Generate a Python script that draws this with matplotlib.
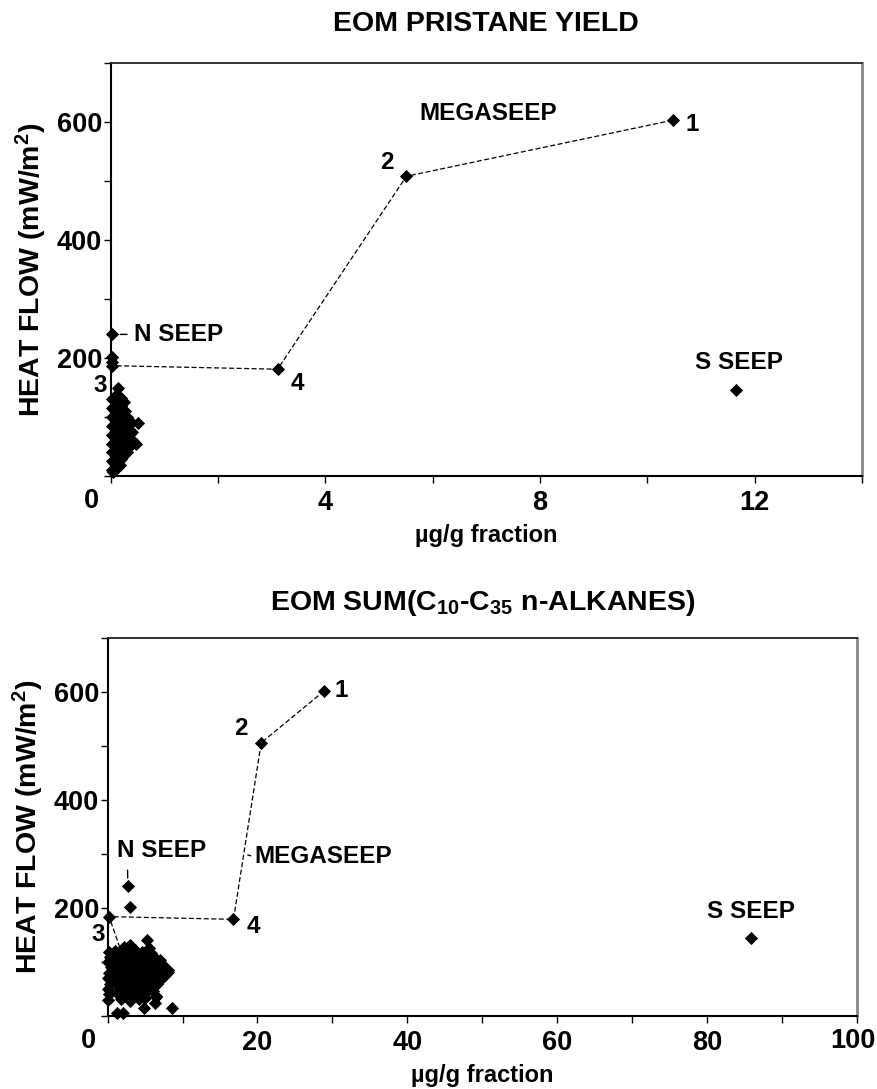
import numpy as np
import matplotlib
matplotlib.use("Agg")
import matplotlib.pyplot as plt

plt.rcParams['font.family'] = ['Liberation Sans', 'DejaVu Sans']
plt.rcParams['font.weight'] = 'bold'
plt.rcParams['mathtext.fontset'] = 'custom'
plt.rcParams['mathtext.rm'] = 'Liberation Sans:bold'
plt.rcParams['mathtext.bf'] = 'Liberation Sans:bold'
plt.rcParams['mathtext.default'] = 'rm'

# ---------------- data: EOM PRISTANE YIELD ----------------
pr_line_labels = ['1', '2', '4', '3']
pr_line_x = [10.47, 5.51, 3.11, 0.03]
pr_line_y = [603, 508, 181, 187]
pr_nseep_x = [0.02]
pr_nseep_y = [240]
pr_sseep_x = [11.65]
pr_sseep_y = [146]
pr_other_x = [0.02, 0.02]
pr_other_y = [202, 194]
pr_cluster_x = [0.02, 0.02, 0.02, 0.03, 0.02, 0.03, 0.02, 0.03, 0.02,
                0.08, 0.09, 0.10, 0.08, 0.10, 0.09, 0.08, 0.10, 0.09,
                0.14, 0.15, 0.13, 0.16, 0.14, 0.15, 0.13, 0.16, 0.13,
                0.20, 0.19, 0.21, 0.20, 0.19, 0.22, 0.20, 0.19,
                0.25, 0.26, 0.24, 0.27, 0.25, 0.26, 0.24,
                0.30, 0.31, 0.29, 0.32, 0.30,
                0.35, 0.36, 0.34, 0.37,
                0.41, 0.40,
                0.48, 0.51, 0.17, 0.05, 0.13]
pr_cluster_y = [10, 25, 40, 55, 70, 85, 100, 115, 130,
                20, 35, 50, 65, 80, 95, 110, 125, 138,
                15, 30, 45, 60, 75, 90, 105, 120, 135,
                28, 42, 58, 72, 88, 102, 118, 132,
                35, 50, 65, 80, 95, 110, 125,
                40, 55, 70, 85, 100,
                50, 62, 78, 92,
                60, 75,
                54, 89, 19, 7, 150]

# ---------------- data: EOM SUM(C10-C35 n-ALKANES) ----------------
al_line_labels = ['1', '2', '4', '3']
al_line_x = [28.9, 20.5, 16.8, 0.2, 1.9]
al_line_y = [602, 506, 179, 184, 116]
al_nseep_x = [2.7]
al_nseep_y = [240]
al_other_x = [3.0]
al_other_y = [201]
al_sseep_x = [85.9]
al_sseep_y = [145]
al_cluster_x = [2.2, 3.0, 5.5,
                0.2, 1.0, 2.5, 3.6, 4.6, 5.8,
                0.3, 1.5, 2.8, 3.9, 5.0, 6.2, 7.0,
                0.1, 1.2, 2.0, 3.2, 4.3, 5.4, 6.5, 7.3,
                0.4, 1.6, 2.6, 3.5, 4.5, 5.6, 6.8, 8.1,
                0.2, 1.0, 2.2, 3.0, 4.0, 4.9, 5.9, 7.0, 7.6,
                0.1, 1.4, 2.5, 3.4, 4.4, 5.2, 6.2, 7.2,
                0.3, 1.1, 2.0, 2.9, 3.8, 4.7, 5.6, 6.6,
                0.1, 1.6, 2.6, 3.5, 4.4, 5.3, 6.1,
                0.2, 1.2, 2.3, 3.2, 4.1, 5.0, 6.4,
                0.1, 1.8, 3.0, 4.2, 5.0,
                2.7, 3.7, 4.2, 4.9, 3.3, 2.4, 4.0, 4.6, 3.1, 5.4,
                3.6, 4.3, 2.9, 5.1, 3.9, 4.7, 2.1, 5.8, 3.4, 4.5,
                4.8, 6.3, 1.2, 2.1, 8.6, 5.2, 5.2, 8.1, 6.4]
al_cluster_y = [128, 131, 126,
                118, 121, 117, 122, 119, 116,
                109, 112, 108, 111, 107, 110, 104,
                100, 98, 103, 99, 101, 97, 102, 96,
                90, 92, 88, 91, 89, 93, 87, 85,
                80, 82, 78, 81, 79, 83, 77, 80, 76,
                70, 72, 68, 71, 69, 73, 67, 70,
                60, 62, 58, 61, 59, 63, 57, 60,
                50, 52, 48, 51, 49, 53, 47,
                40, 42, 38, 41, 39, 43, 37,
                30, 32, 28, 31, 33,
                95, 85, 75, 65, 55, 45, 105, 115, 75, 90,
                66, 56, 84, 74, 94, 46, 64, 106, 114, 86,
                15, 24, 5, 5, 15, 141, 116, 82, 36]

FIG_W, FIG_H = 877, 1089
fig = plt.figure(figsize=(FIG_W / 100, FIG_H / 100), dpi=100)

ax1 = fig.add_axes([110.7 / FIG_W, 1 - 476 / FIG_H, (862 - 110.7) / FIG_W, (476 - 63) / FIG_H])
ax2 = fig.add_axes([107.6 / FIG_W, 1 - 1016 / FIG_H, (857 - 107.6) / FIG_W, (1016 - 638) / FIG_H])

MK = dict(marker='D', color='black', markersize=5.8, markeredgewidth=0.6, linestyle='none')
TICKFS = 19.5
YLABFS = 20.5
XLABFS = 17
ANNFS = 17.5
TITLEFS = 20.5


def style_axes(ax, xmax, xmajor, xminor, last_shift=0):
    ax.set_xlim(0, xmax)
    ax.set_ylim(0, 700)
    ticks = np.arange(0, xmax + 0.001, xminor)
    ax.set_xticks(ticks)
    labs = []
    for v in ticks:
        iv = int(round(v))
        show = (iv % xmajor == 0 and iv != 0)
        if last_shift and iv == int(round(xmax)):
            show = False
        labs.append(str(iv) if show else '')
    ax.set_xticklabels(labs)
    ax.set_yticks(np.arange(0, 701, 100))
    ax.set_yticklabels(['' if v % 200 or v == 0 else str(v) for v in range(0, 701, 100)])
    ax.tick_params(axis='both', direction='out', length=5, width=1, labelsize=TICKFS, pad=1)
    ax.tick_params(axis='x', pad=5)
    for lab in ax.get_xticklabels() + ax.get_yticklabels():
        lab.set_fontweight('bold')
    ax.spines['left'].set_linewidth(1.5)
    ax.spines['bottom'].set_linewidth(1.5)
    ax.spines['top'].set_linewidth(1.3)
    ax.spines['top'].set_color('#222222')
    ax.spines['right'].set_linewidth(2)
    ax.spines['right'].set_color('#888888')
    ax.annotate('0', xy=(0, 0), xycoords='data', xytext=(-14, -9), textcoords='offset points',
                ha='center', va='top', fontsize=TICKFS, fontweight='bold', annotation_clip=False)
    if last_shift:
        ax.annotate(str(int(round(xmax))), xy=(xmax, 0), xycoords='data', xytext=(last_shift, -9),
                    textcoords='offset points', ha='center', va='top', fontsize=TICKFS,
                    fontweight='bold', annotation_clip=False)
    ax.set_ylabel('HEAT FLOW (mW/m$^{2}$)', fontsize=YLABFS, fontweight='bold', labelpad=6)
    ax.set_xlabel('µg/g fraction', fontsize=XLABFS, fontweight='bold', labelpad=6)


# ---------------- top panel ----------------
ax1.plot(pr_line_x, pr_line_y, color='black', linestyle=(0, (4, 2)), linewidth=0.9)
ax1.plot(pr_cluster_x, pr_cluster_y, **MK, clip_on=False)
ax1.plot(pr_line_x, pr_line_y, **MK, clip_on=False)
ax1.plot(pr_other_x, pr_other_y, **MK, clip_on=False)
ax1.plot(pr_nseep_x, pr_nseep_y, **MK, clip_on=False)
ax1.plot(pr_sseep_x, pr_sseep_y, **MK)
style_axes(ax1, 14, 4, 2)
ax1.set_title('EOM PRISTANE YIELD', fontsize=TITLEFS, fontweight='bold', pad=23)

pr_offsets = [(14, -3), (-14, 10), (14, -10), (-9, -14)]
for lab, x, y, off in zip(pr_line_labels, pr_line_x, pr_line_y, pr_offsets):
    ax1.annotate(lab, xy=(x, y), xytext=off, textcoords='offset points', ha='center', va='center',
                 fontsize=ANNFS, fontweight='bold', annotation_clip=False)
ax1.text(7.03, 615, 'MEGASEEP', ha='center', va='center', fontsize=ANNFS, fontweight='bold')
ax1.annotate('N SEEP', xy=(pr_nseep_x[0], pr_nseep_y[0]), xytext=(16, 0), textcoords='offset points',
             ha='left', va='center', fontsize=ANNFS, fontweight='bold',
             arrowprops=dict(arrowstyle='-', lw=1, color='black', shrinkA=3, shrinkB=6))
ax1.annotate('S SEEP', xy=(pr_sseep_x[0], pr_sseep_y[0]), xytext=(2, 20), textcoords='offset points',
             ha='center', va='center', fontsize=ANNFS, fontweight='bold')

# ---------------- bottom panel ----------------
ax2.plot(al_line_x, al_line_y, color='black', linestyle=(0, (4, 2)), linewidth=0.9)
ax2.plot(al_cluster_x, al_cluster_y, **MK, clip_on=False)
ax2.plot(al_line_x[:4], al_line_y[:4], **MK, clip_on=False)
ax2.plot(al_other_x, al_other_y, **MK)
ax2.plot(al_nseep_x, al_nseep_y, **MK)
ax2.plot(al_sseep_x, al_sseep_y, **MK)
style_axes(ax2, 100, 20, 10, last_shift=-3)
ax2.set_title('EOM SUM(C$_{10}$-C$_{35}$ n-ALKANES)', fontsize=TITLEFS, fontweight='bold', pad=20)

al_offsets = [(12, 0), (-15, 10), (14, -5), (-8, -13)]
for lab, x, y, off in zip(al_line_labels, al_line_x, al_line_y, al_offsets):
    ax2.annotate(lab, xy=(x, y), xytext=off, textcoords='offset points', ha='center', va='center',
                 fontsize=ANNFS, fontweight='bold', annotation_clip=False)
ax2.annotate('N SEEP', xy=(al_nseep_x[0], al_nseep_y[0]), xytext=(-8, 26), textcoords='offset points',
             ha='left', va='center', fontsize=ANNFS, fontweight='bold',
             arrowprops=dict(arrowstyle='-', lw=1, color='black', shrinkA=4, shrinkB=6,
                             relpos=(0.12, 0.0)))
# leader to the megaseep line
seg_y = 300
seg_x = float(np.interp(seg_y, [al_line_y[2], al_line_y[1]], [al_line_x[2], al_line_x[1]]))
ax2.annotate('MEGASEEP', xy=(seg_x, seg_y), xytext=(8, -2), textcoords='offset points',
             ha='left', va='center', fontsize=ANNFS, fontweight='bold',
             arrowprops=dict(arrowstyle='-', lw=1, color='black', shrinkA=1, shrinkB=3,
                             relpos=(0.0, 0.5)))
ax2.annotate('S SEEP', xy=(al_sseep_x[0], al_sseep_y[0]), xytext=(0, 19), textcoords='offset points',
             ha='center', va='center', fontsize=ANNFS, fontweight='bold')

fig.savefig('out.png', dpi=100)
